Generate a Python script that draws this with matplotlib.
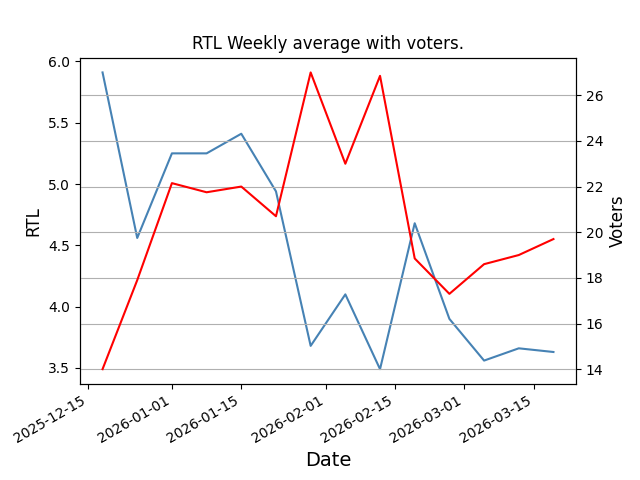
"""
RTL weekly average with voters, two y axes.
"""

import matplotlib
matplotlib.use("Agg")
import matplotlib.pyplot as plt
import pandas as pd

dates = pd.date_range("2025-12-18", periods=14, freq="7D")

rtl = [5.91, 4.56, 5.25, 5.25, 5.41, 4.94, 3.68, 4.10, 3.49, 4.68,
       3.90, 3.56, 3.66, 3.63]

voters = [14.0, 17.9, 22.15, 21.75, 22.0, 20.7, 27.0, 23.0, 26.85, 18.85,
          17.3, 18.6, 19.0, 19.7]


def main():
    fig, ax = plt.subplots(figsize=(6.4, 4.8))

    ax.plot(dates, rtl, color="steelblue")
    ax.set_ylabel("RTL", fontsize=12)
    ax.set_xlabel("Date", fontsize=14)

    ax2 = ax.twinx()
    ax2.plot(dates, voters, color="red")
    ax2.set_ylabel("Voters", fontsize=12)
    ax2.grid(True)

    ax.set_title("RTL Weekly average with voters.")
    fig.autofmt_xdate()
    fig.savefig("out.png", dpi=100)


if __name__ == "__main__":
    main()
